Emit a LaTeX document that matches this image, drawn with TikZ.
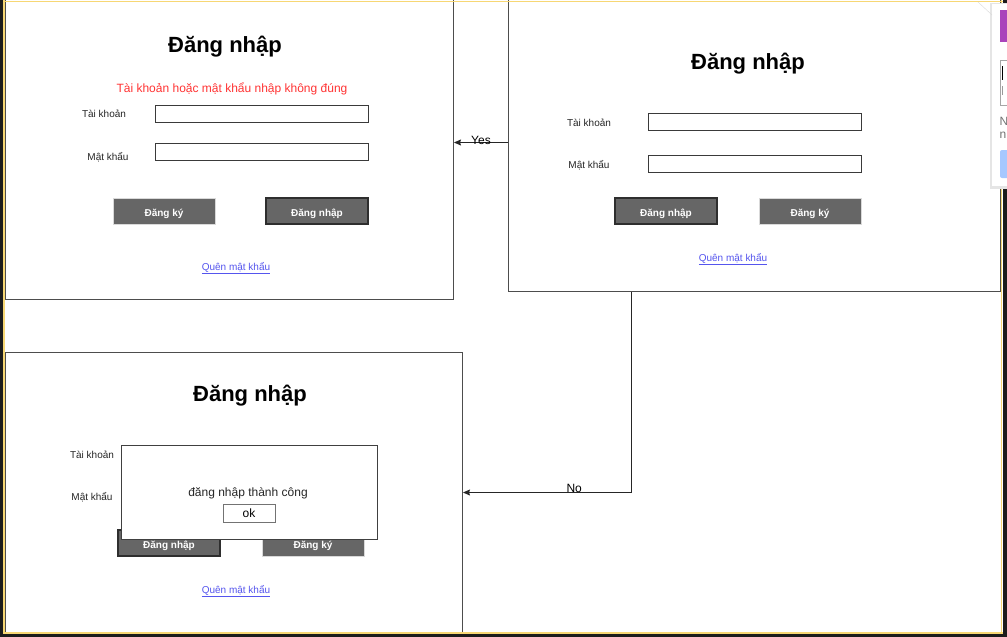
\documentclass[tikz,border=0pt]{standalone}
\usepackage{fontspec}
\setmainfont{Liberation Sans}
\usepackage{xcolor}
\usetikzlibrary{arrows.meta}

\definecolor{panelline}{HTML}{4D4D4D}
\definecolor{fieldline}{HTML}{3A3A3A}
\definecolor{btngrey}{HTML}{666666}
\definecolor{btnedge}{HTML}{2E2E2E}
\definecolor{errred}{HTML}{FF3333}
\definecolor{linkblue}{HTML}{5555EE}
\definecolor{framedark}{HTML}{1C1C1C}
\definecolor{frameyellow}{HTML}{F7D774}
\definecolor{popviolet}{HTML}{AA44BB}
\definecolor{popblue}{HTML}{A6C8FF}

\tikzset{
  panel/.style={draw=panelline, line width=1pt, fill=white, rectangle, inner sep=0pt},
  title/.style={font=\bfseries\fontsize{22}{26}\selectfont},
  lbl/.style={font=\fontsize{10}{12}\selectfont, text=black!85},
  field/.style={draw=fieldline, line width=0.9pt, fill=white, minimum width=213, minimum height=17, anchor=north west, inner sep=0pt},
  btn/.style={fill=btngrey, draw=black!15, line width=0.6pt, text=white, font=\bfseries\fontsize{10}{12}\selectfont, text height=10pt, text depth=0pt, minimum width=102, minimum height=26, inner sep=0pt},
  btndark/.style={btn, draw=btnedge, line width=1.2pt},
  link/.style={text=linkblue, font=\fontsize{10}{12}\selectfont},
  flow/.style={draw=black!85, line width=0.9pt, -{Stealth[length=7pt,width=6pt,inset=1pt]}},
  note/.style={font=\fontsize{12}{14}\selectfont}
}

\begin{document}
\begin{tikzpicture}[x=1pt,y=-1pt]
\useasboundingbox (0,0) rectangle (1007,637);
\clip (0,0) rectangle (1007,637);
\fill[white] (0,0) rectangle (1007,637);

% panel with the error message
\node[panel, minimum width=448, minimum height=314, anchor=south west] (loginA) at (5,300) {};
\node[title] (titleA) at (225,47) {Đăng nhập};
\node[note, text=errred] (errA) at (232,89) {Tài khoản hoặc mật khẩu nhập không đúng};
\node[lbl] (userA) at (104,114) {Tài khoản};
\node[field] (userboxA) at (155,105) {};
\node[lbl] (passA) at (108,157) {Mật khẩu};
\node[field] (passboxA) at (155,143) {};
\node[btn] (signupA) at (164,211) {Đăng ký};
\node[btndark] (signinA) at (317,211) {Đăng nhập};
\node[link] (forgotA) at (236,268) {\underline{Quên mật khẩu}};

% login form
\node[panel, minimum width=492, minimum height=298, anchor=south west] (loginB) at (508,292) {};
\node[title] (titleB) at (748,64) {Đăng nhập};
\node[lbl] (userB) at (589,123) {Tài khoản};
\node[field] (userboxB) at (648,113) {};
\node[lbl] (passB) at (589,165) {Mật khẩu};
\node[field] (passboxB) at (648,155) {};
\node[btndark] (signinB) at (666,211) {Đăng nhập};
\node[btn] (signupB) at (810,211) {Đăng ký};
\node[link] (forgotB) at (733,259) {\underline{Quên mật khẩu}};

% success
\node[panel, minimum width=457, minimum height=280, anchor=north west] (loginC) at (5,352) {};
\node[title] (titleC) at (250,396) {Đăng nhập};
\node[lbl] (userC) at (92,455) {Tài khoản};
\node[lbl] (passC) at (92,497) {Mật khẩu};
\node[btndark] (signinC) at (169,543) {Đăng nhập};
\node[btn] (signupC) at (313,543) {Đăng ký};
\node[link] (forgotC) at (236,591) {\underline{Quên mật khẩu}};
\node[draw=black!75, line width=1pt, fill=white, minimum width=256, minimum height=94, inner sep=0pt] (msgbox) at (249,492) {};
\node[note, text=black!85] (msgtext) at (248,493) {đăng nhập thành công};
\node[note, draw=black!55, line width=0.9pt, minimum width=52, minimum height=18, inner sep=0pt] (okbtn) at (249,513) {ok};

% connectors
\draw[flow] (loginB.west) -- node[note, yshift=2.5pt] {Yes} (loginA.east);
\draw[flow] ([xshift=-123pt]loginB.south) |- node[note, pos=0.67, yshift=4pt] {No} (loginC.east);

% screen frame
\fill[framedark] (0,0) rectangle (3,637);
\fill[framedark] (1003,0) rectangle (1007,637);
\fill[framedark] (0,634) rectangle (1007,637);
\draw[frameyellow, line width=1.5pt] (3,1.5) -- (1003,1.5);
\draw[frameyellow, line width=1.5pt] (4,0) -- (4,634);
\draw[frameyellow, line width=1.5pt] (3,632.8) -- (1003,632.8);
\draw[frameyellow, line width=1.5pt] (1001.5,0) -- (1001.5,634);

% popup at the right edge
\fill[black!10] (990,3) rectangle (1007,189);
\fill[white] (992,4) rectangle (1007,186);
\draw[black!15] (978,2) -- (992,15);
\fill[popviolet] (1000,10) rectangle (1007,42);
\draw[black!35] (1000.5,60) rectangle (1012,105);
\draw[black, line width=1pt] (1002,66) -- (1002,80);
\draw[black!40, line width=0.8pt] (1002,86) -- (1002,95);
\node[note, text=black!55, anchor=west, inner sep=0pt] (popN) at (999.5,121) {N};
\node[note, text=black!55, anchor=west, inner sep=0pt] (popn) at (999.5,135) {n};
\fill[popblue, rounded corners=2pt] (1000,150) rectangle (1012,178);
\end{tikzpicture}
\end{document}
